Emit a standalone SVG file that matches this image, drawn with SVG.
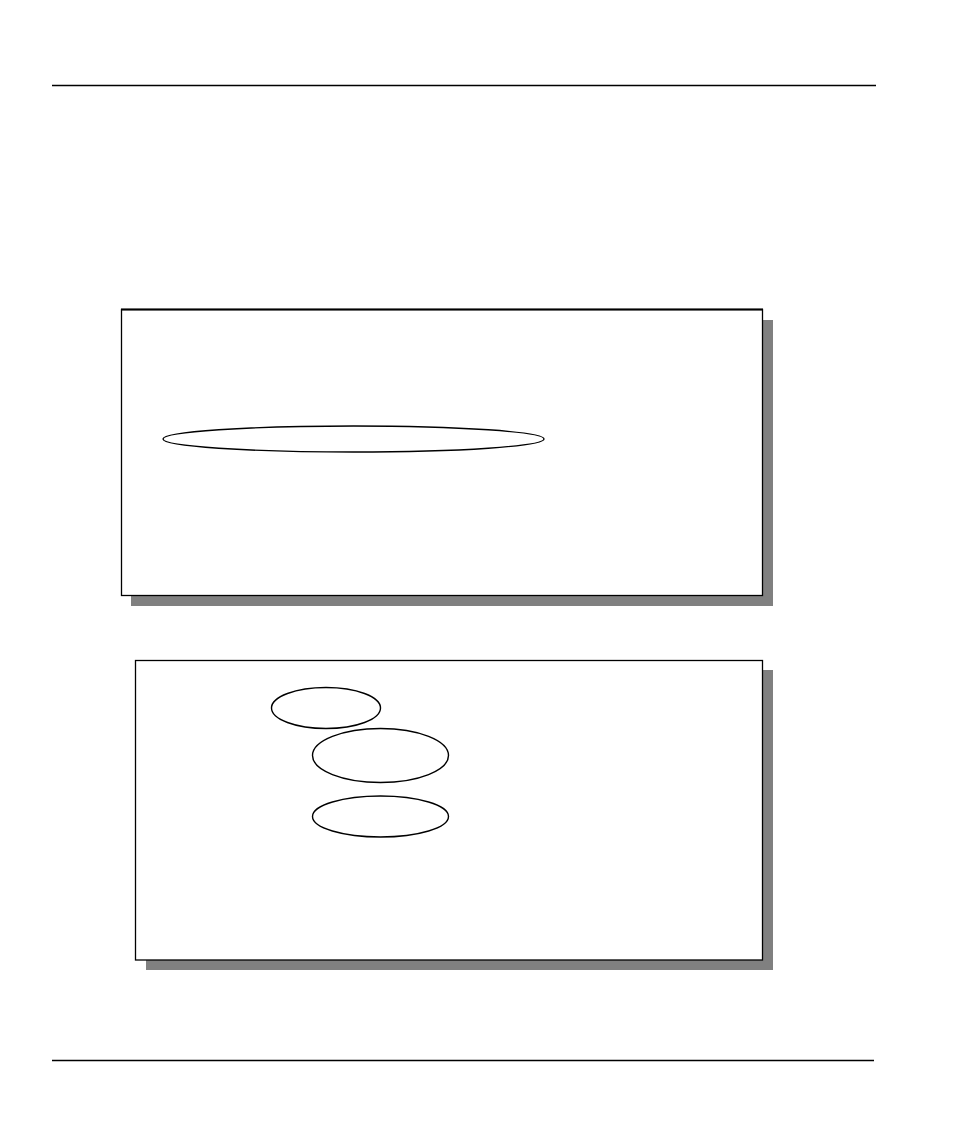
<svg xmlns="http://www.w3.org/2000/svg" width="954" height="1132" viewBox="0 0 954 1132">
<style>
.rule{stroke:#000;stroke-width:1.3}
.shadow{fill:#808080;stroke:none}
.box{fill:#fff;stroke:#000;stroke-width:1.3}
.ell{fill:#fff;stroke:#000;stroke-width:1.4}
</style>
<rect width="954" height="1132" fill="#fff"/>
<line class="rule" x1="52" y1="85.5" x2="876" y2="85.5"/>
<line class="rule" x1="52" y1="1060.5" x2="874" y2="1060.5"/>
<g id="panel1">
<rect class="shadow" x="131" y="320" width="642" height="286"/>
<rect class="box" x="121.5" y="309.5" width="641" height="286"/>
<line x1="121" y1="309.5" x2="763" y2="309.5" stroke="#000" stroke-width="2"/>
</g>
<g id="ellipse1">
<ellipse class="ell" cx="353.5" cy="439" rx="190.5" ry="13"/>
</g>
<g id="panel2">
<rect class="shadow" x="146" y="670" width="627" height="300"/>
<rect class="box" x="135.5" y="660.5" width="627" height="299.5"/>
</g>
<g id="ellipse2">
<ellipse class="ell" cx="326" cy="708" rx="54.5" ry="20.5"/>
</g>
<g id="ellipse3">
<ellipse class="ell" cx="380.5" cy="755.5" rx="68" ry="27"/>
</g>
<g id="ellipse4">
<ellipse class="ell" cx="380.5" cy="816.5" rx="68" ry="20.5"/>
</g>
<g id="connectors"/>
</svg>
